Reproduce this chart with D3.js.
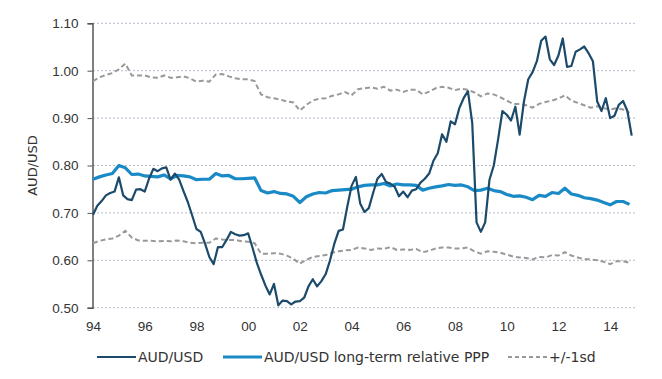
<!DOCTYPE html>
<html>
<head>
<script src="https://d3js.org/d3.v7.min.js"></script>
<style>
  body { margin: 0; background: #fff; }
  svg { font-family: "DejaVu Sans", Verdana, sans-serif; }
</style>
</head>
<body>
<svg width="662" height="379"></svg>
<script>
"use strict";

// AUD/USD spot, every 2 months from Jan 1994
var audStart = 1994, audStep = 1 / 6;
var audUsd = [
  0.696, 0.715, 0.725, 0.737, 0.742, 0.745, 0.775, 0.737, 0.729, 0.727,
  0.749, 0.750, 0.745, 0.772, 0.793, 0.788, 0.794, 0.796, 0.770, 0.783,
  0.770, 0.746, 0.723, 0.695, 0.666, 0.660, 0.635, 0.607, 0.592, 0.628,
  0.628, 0.643, 0.660, 0.655, 0.652, 0.653, 0.657, 0.627, 0.595, 0.570,
  0.547, 0.528, 0.550, 0.505, 0.515, 0.514, 0.507, 0.513, 0.514, 0.521,
  0.545, 0.560, 0.545, 0.556, 0.571, 0.600, 0.635, 0.662, 0.665, 0.713,
  0.757, 0.776, 0.720, 0.702, 0.710, 0.742, 0.772, 0.782, 0.765, 0.762,
  0.755, 0.735, 0.745, 0.733, 0.747, 0.750, 0.764, 0.772, 0.783, 0.810,
  0.826, 0.866, 0.850, 0.893, 0.887, 0.921, 0.942, 0.957, 0.890, 0.680,
  0.660, 0.680, 0.770, 0.800, 0.855, 0.915, 0.907, 0.895, 0.924, 0.865,
  0.935, 0.982, 0.997, 1.020, 1.063, 1.072, 1.024, 1.012, 1.032, 1.068,
  1.008, 1.010, 1.040, 1.045, 1.051, 1.037, 1.020, 0.935, 0.915, 0.942,
  0.900, 0.905, 0.928, 0.936, 0.915, 0.863
];

// quarterly from Q1 1994
var qStart = 1994, qStep = 0.25;
var pppFair = [
  0.771, 0.776, 0.780, 0.783, 0.800, 0.795, 0.781, 0.782, 0.778, 0.777,
  0.776, 0.780, 0.772, 0.779, 0.778, 0.776, 0.770, 0.771, 0.771, 0.783,
  0.778, 0.779, 0.772, 0.772, 0.773, 0.774, 0.747, 0.742, 0.745, 0.741,
  0.740, 0.735, 0.722, 0.734, 0.740, 0.743, 0.742, 0.747, 0.748, 0.749,
  0.750, 0.755, 0.758, 0.759, 0.759, 0.762, 0.757, 0.761, 0.759, 0.759,
  0.758, 0.748, 0.752, 0.755, 0.757, 0.760, 0.758, 0.759, 0.755, 0.747,
  0.748, 0.752, 0.747, 0.745, 0.739, 0.735, 0.736, 0.733, 0.728, 0.737,
  0.735, 0.743, 0.741, 0.752, 0.740, 0.737, 0.732, 0.730, 0.727, 0.722,
  0.717, 0.724, 0.724, 0.718
];
var upperBand = [
  0.978, 0.986, 0.991, 0.995, 1.003, 1.015, 0.990, 0.990, 0.990, 0.986,
  0.985, 0.990, 0.985, 0.986, 0.988, 0.984, 0.977, 0.979, 0.977, 0.992,
  0.993, 0.988, 0.984, 0.982, 0.982, 0.978, 0.950, 0.944, 0.942, 0.939,
  0.935, 0.933, 0.916, 0.928, 0.937, 0.941, 0.942, 0.947, 0.950, 0.955,
  0.948, 0.961, 0.963, 0.965, 0.962, 0.966, 0.958, 0.960, 0.955, 0.960,
  0.960, 0.950, 0.956, 0.963, 0.966, 0.964, 0.959, 0.962, 0.960, 0.954,
  0.946, 0.952, 0.950, 0.944, 0.937, 0.930, 0.930, 0.927, 0.922, 0.930,
  0.934, 0.937, 0.941, 0.948, 0.937, 0.932, 0.927, 0.922, 0.925, 0.921,
  0.918, 0.921, 0.918, 0.911
];
var lowerBand = [
  0.636, 0.641, 0.644, 0.646, 0.652, 0.662, 0.648, 0.642, 0.641, 0.641,
  0.640, 0.641, 0.640, 0.642, 0.640, 0.637, 0.636, 0.637, 0.637, 0.646,
  0.644, 0.643, 0.643, 0.640, 0.639, 0.636, 0.614, 0.614, 0.615, 0.614,
  0.610, 0.603, 0.593, 0.601, 0.607, 0.609, 0.611, 0.616, 0.619, 0.621,
  0.622, 0.627, 0.625, 0.622, 0.625, 0.624, 0.628, 0.622, 0.623, 0.622,
  0.624, 0.617, 0.620, 0.625, 0.627, 0.627, 0.625, 0.625, 0.627, 0.619,
  0.614, 0.619, 0.618, 0.616, 0.612, 0.608, 0.606, 0.605, 0.602, 0.607,
  0.606, 0.611, 0.610, 0.617, 0.610, 0.606, 0.602, 0.602, 0.600, 0.597,
  0.592, 0.598, 0.598, 0.595
];

var yTicks = [0.5, 0.6, 0.7, 0.8, 0.9, 1.0, 1.1];
var xTicks = [1994, 1996, 1998, 2000, 2002, 2004, 2006, 2008, 2010, 2012, 2014];

var svg = d3.select("svg");
var textColor = "#333";

var x = d3.scaleLinear().domain([1994, 2015]).range([93, 636]);
var y = d3.scaleLinear().domain([0.5, 1.1]).range([307.7, 23.3]);

// gridlines
svg.append("g").selectAll("line")
  .data(yTicks).enter().append("line")
  .attr("x1", x(1994)).attr("x2", x(2015))
  .attr("y1", d => y(d)).attr("y2", d => y(d))
  .attr("stroke", "#b3bccb").attr("stroke-width", 1)
  .attr("stroke-dasharray", "2,2");

// y axis
var yAxis = svg.append("g")
  .attr("transform", "translate(" + (x(1994) - 0.5) + ",0)")
  .call(d3.axisLeft(y).tickValues(yTicks).tickSize(5).tickPadding(9).tickFormat(d3.format(".2f")));
yAxis.select(".domain").attr("stroke", "#555").attr("stroke-width", 1.5);
yAxis.selectAll(".tick line").attr("stroke", "#555");
yAxis.selectAll("text").attr("fill", textColor).attr("font-size", 13.5);

// x axis labels only
var xAxis = svg.append("g")
  .attr("transform", "translate(0," + y(0.5) + ")")
  .call(d3.axisBottom(x).tickValues(xTicks).tickSize(0).tickPadding(14).tickFormat(d => d3.format("02d")(d % 100)));
xAxis.select(".domain").remove();
xAxis.selectAll("text").attr("fill", textColor).attr("font-size", 13.5);

svg.append("text")
  .attr("transform", "translate(37," + (y(0.8)) + ") rotate(-90)")
  .attr("text-anchor", "middle")
  .attr("font-size", 13)
  .attr("fill", textColor)
  .text("AUD/USD");

function series(values, start, step) {
  return values.map((v, i) => [start + i * step, v]);
}
var line = d3.line().x(d => x(d[0])).y(d => y(d[1]));

var bandStyle = { color: "#999", width: 2, dash: "5,3" };

svg.append("path").datum(series(upperBand, qStart, qStep))
  .attr("d", line).attr("fill", "none")
  .attr("stroke", bandStyle.color).attr("stroke-width", bandStyle.width)
  .attr("stroke-dasharray", bandStyle.dash);
svg.append("path").datum(series(lowerBand, qStart, qStep))
  .attr("d", line).attr("fill", "none")
  .attr("stroke", bandStyle.color).attr("stroke-width", bandStyle.width)
  .attr("stroke-dasharray", bandStyle.dash);
svg.append("path").datum(series(pppFair, qStart, qStep))
  .attr("d", line).attr("fill", "none")
  .attr("stroke", "#1a8ac6").attr("stroke-width", 3.2)
  .attr("stroke-linejoin", "round");
svg.append("path").datum(series(audUsd, audStart, audStep))
  .attr("d", line).attr("fill", "none")
  .attr("stroke", "#1b4a6b").attr("stroke-width", 2.2)
  .attr("stroke-linejoin", "round");

// legend
var legendItems = [
  { label: "AUD/USD", color: "#1b4a6b", width: 2.2, dash: null, x: 97 },
  { label: "AUD/USD long-term relative PPP", color: "#1a8ac6", width: 3.2, dash: null, x: 223 },
  { label: "+/-1sd", color: "#999", width: 2, dash: "4,3", x: 508 }
];
var legend = svg.append("g").attr("transform", "translate(0,357)");
var item = legend.selectAll("g").data(legendItems).enter().append("g")
  .attr("transform", d => "translate(" + d.x + ",0)");
item.append("line")
  .attr("x1", 0).attr("x2", 39).attr("y1", 0).attr("y2", 0)
  .attr("stroke", d => d.color).attr("stroke-width", d => d.width)
  .attr("stroke-dasharray", d => d.dash);
item.append("text")
  .attr("x", 41).attr("dy", "0.35em")
  .attr("font-size", 14).attr("fill", textColor)
  .text(d => d.label);
</script>
</body>
</html>
